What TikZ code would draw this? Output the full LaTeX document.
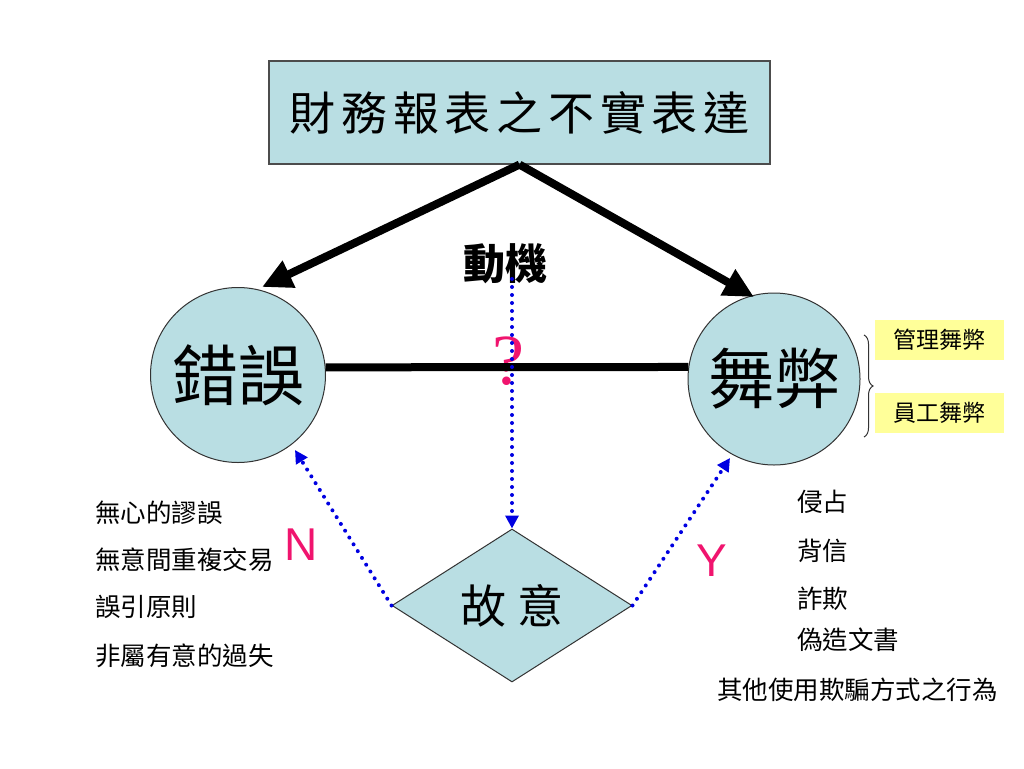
\documentclass[tikz,border=0pt]{standalone}
\usepackage{fontspec}
\setmainfont{Liberation Serif}
\newfontfamily\cjk{Noto Sans CJK TC}
\newfontfamily\cjkwide{Noto Sans CJK TC}[LetterSpace=12.5]
\newfontfamily\arialf{Liberation Sans}
\newfontfamily\timesf{Liberation Serif}
\usetikzlibrary{arrows.meta,shapes.geometric,decorations.pathreplacing}
\definecolor{boxblue}{RGB}{185,222,227}
\definecolor{pinkred}{RGB}{240,20,110}
\definecolor{dotblue}{RGB}{0,0,225}
\definecolor{noteyellow}{RGB}{255,255,153}
\tikzset{
  bigbox/.style={draw=black!70, line width=1.2pt, fill=boxblue, minimum width=501pt, minimum height=103pt, inner sep=0pt, font=\cjkwide\fontsize{46}{50}\selectfont},
  roundnode/.style={circle, draw=black!80, line width=1pt, fill=boxblue, minimum size=175pt, inner sep=0pt, font=\cjk\fontsize{66}{70}\selectfont},
  decision/.style={diamond, draw=black!80, line width=1pt, fill=boxblue, minimum width=240pt, minimum height=153pt, aspect=1.57, inner sep=0pt, font=\cjk\fontsize{46}{50}\selectfont},
  thickarrow/.style={line width=8pt, -{Triangle[length=30pt,width=28pt]}},
  thickline/.style={line width=8pt},
  dotarrow/.style={dotblue, line width=4pt, dash pattern=on 0pt off 8pt, line cap=round, -{Triangle[length=13pt,width=13pt]}},
  listitem/.style={anchor=west, inner sep=0pt, font=\cjk\fontsize{25.5}{27}\selectfont},
  notebox/.style={fill=noteyellow, minimum width=129pt, minimum height=40pt, inner sep=0pt, font=\cjk\fontsize{23}{25}\selectfont},
  yn/.style={pinkred, font=\arialf\fontsize{46}{50}\selectfont, inner sep=0pt}
}
\begin{document}
\begin{tikzpicture}[x=1pt,y=-1pt]
\useasboundingbox (0,0) rectangle (1024,768);
\node[bigbox] (title) at (519.5,112.5) {財務報表之不實表達};
\node[roundnode] (err) at (238,375) {錯誤};
\node[roundnode, minimum size=172pt] (fraud) at (774,379) {舞弊};
\node[decision] (intent) at (512,605.5) {故\hspace{12pt}意};
\node[font=\cjk\bfseries\fontsize{42}{46}\selectfont, inner sep=0pt] (motive) at (505,264) {動機};
\node[pinkred, font=\timesf\fontsize{72}{76}\selectfont, inner sep=0pt] (q) at (508,361) {?};
\coordinate (aL) at (262,287);
\coordinate (aR) at (754,297);
\coordinate (mtop) at (512,279);
\coordinate (nTip) at (295,450);
\coordinate (yTip) at (730,458);
\draw[thickarrow] (title.south) -- (aL);
\draw[thickarrow] (title.south) -- (aR);
\draw[thickline] (err.5) -- (fraud.172);
\draw[dotarrow] (mtop) -- (intent.north);
\draw[dotarrow] (intent.west) -- (nTip);
\draw[dotarrow] (intent.east) -- (yTip);
\node[yn] (N) at (301,545) {N};
\node[yn] (Y) at (712,561) {Y};
\node[notebox] (mgmt) at (939.5,340) {管理舞弊};
\node[notebox] (emp) at (939.5,413) {員工舞弊};
\coordinate (bt) at (864,335);
\coordinate (bb) at (864,437);
\draw[black!80, line width=1pt, decorate, decoration={brace, amplitude=9pt}] (bt) -- (bb);
\node[listitem] (l1) at (95,513) {無心的謬誤};
\node[listitem] (l2) at (95,560) {無意間重複交易};
\node[listitem] (l3) at (95,607) {誤引原則};
\node[listitem] (l4) at (95,656) {非屬有意的過失};
\node[listitem] (r1) at (797,502) {侵占};
\node[listitem] (r2) at (797,551) {背信};
\node[listitem] (r3) at (797,599) {詐欺};
\node[listitem] (r4) at (797,640) {偽造文書};
\node[listitem] (r5) at (717,690) {其他使用欺騙方式之行為};
\end{tikzpicture}
\end{document}
